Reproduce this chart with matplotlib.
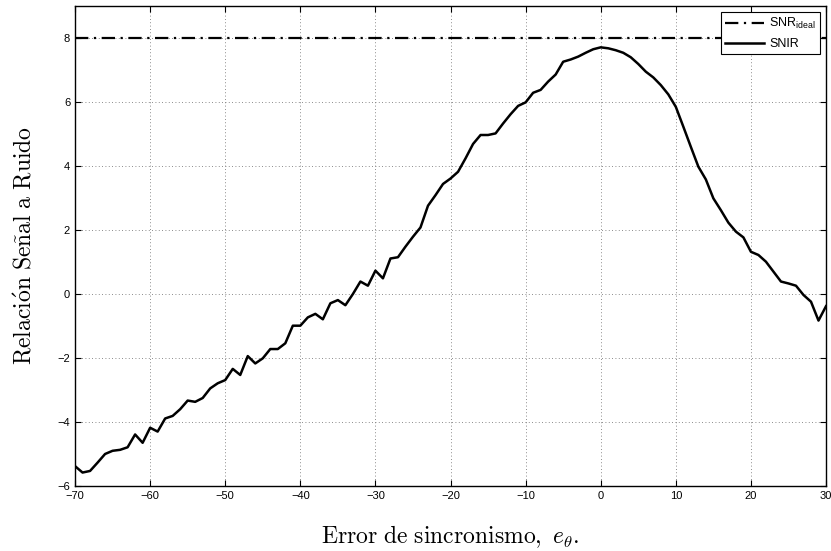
import numpy as np
from matplotlib import pyplot as plt

plt.rcParams['mathtext.fontset'] = 'cm'

# error de sincronismo (grados) y SNIR medido
ERROR = list(range(-70, 31))
SNIR = [
    -5.38, -5.58, -5.53, -5.27, -5.00, -4.90, -4.87, -4.79, -4.39, -4.65,
    -4.18, -4.30, -3.89, -3.81, -3.60, -3.33, -3.37, -3.25, -2.95, -2.79,
    -2.69, -2.34, -2.53, -1.94, -2.17, -2.01, -1.72, -1.72, -1.54, -0.99,
    -0.99, -0.73, -0.62, -0.79, -0.29, -0.19, -0.35, 0.00, 0.39, 0.26,
    0.73, 0.49, 1.11, 1.15, 1.48, 1.79, 2.08, 2.76, 3.09, 3.44,
    3.61, 3.82, 4.24, 4.69, 4.97, 4.97, 5.02, 5.33, 5.62, 5.88,
    5.99, 6.29, 6.38, 6.64, 6.86, 7.26, 7.33, 7.42, 7.54, 7.65,
    7.71, 7.68, 7.62, 7.54, 7.40, 7.19, 6.95, 6.77, 6.53, 6.24,
    5.85, 5.23, 4.60, 3.98, 3.58, 2.99, 2.62, 2.23, 1.95, 1.77,
    1.32, 1.22, 1.01, 0.70, 0.39, 0.33, 0.26, -0.03, -0.24, -0.83,
    -0.38,
]
SNR_IDEAL = 8.0

XTICKS = list(range(-70, 31, 10))
YTICKS = list(range(-6, 9, 2))

fig = plt.figure(figsize=(8.31, 5.51), dpi=100)
ax = fig.add_axes([0.0903, 0.118, 0.9037, 0.871])

ax.plot([ERROR[0], ERROR[-1]], [SNR_IDEAL, SNR_IDEAL], color='black', lw=1.6,
        linestyle=(0, (6, 2.5, 1, 2.5)), label=r'SNR$_{\mathregular{ideal}}$')
ax.plot(ERROR, SNIR, color='black', lw=1.8, label='SNIR')

ax.set_xlim(-70, 30)
ax.set_ylim(-6, 9)
ax.set_xticks(XTICKS)
ax.set_yticks(YTICKS)
ax.grid(True, linestyle=(0, (1, 3)), color='#666666', lw=0.6)
ax.tick_params(direction='in', top=True, right=True, length=4, labelsize=8)
for lbl in ax.get_xticklabels() + ax.get_yticklabels():
    lbl.set_family('Liberation Sans')
for sp in ax.spines.values():
    sp.set_linewidth(1.0)

ax.set_xlabel(r'$\mathrm{Error\ de\ sincronismo,}\ e_\theta.$', fontsize=17,
              labelpad=16)
ax.set_ylabel(r'$\mathrm{Relaci\acute{o}n\ Se\tilde{n}al\ a\ Ruido}$', fontsize=17,
              labelpad=15)

leg = ax.legend(loc='upper right', prop={'family': 'Liberation Sans', 'size': 9},
                fancybox=False, framealpha=1, edgecolor='black',
                borderaxespad=0.45, handlelength=3.1, borderpad=0.35,
                labelspacing=0.55, handletextpad=0.4)
leg.get_frame().set_linewidth(0.8)

fig.savefig('out.png', dpi=100)
